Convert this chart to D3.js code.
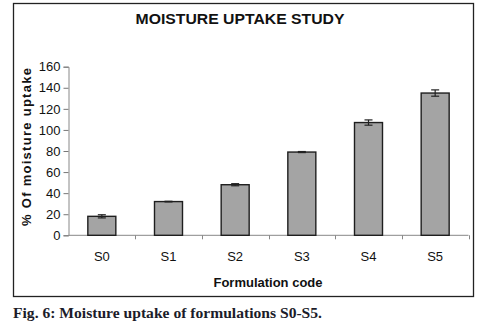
<!DOCTYPE html>
<html><head><meta charset="utf-8">
<script src="https://cdn.jsdelivr.net/npm/d3@7"></script>
<style>body{margin:0;background:#fff}svg{display:block}</style>
</head><body>
<script>
const categories = ["S0","S1","S2","S3","S4","S5"];
const values = [18, 32, 48, 79, 107, 135];
const errors = [1.5, 0.3, 1, 0.5, 2.5, 3];
const yTicks = [0,20,40,60,80,100,120,140,160];
const title = "MOISTURE UPTAKE STUDY";
const xTitle = "Formulation code";
const yTitle = "% Of moisture uptake";
const caption = "Fig. 6: Moisture uptake of formulations S0-S5.";

const W = 480, H = 328;
const svg = d3.select("body").append("svg").attr("width", W).attr("height", H);
svg.append("rect").attr("width", W).attr("height", H).attr("fill", "#fff");

// outer frame
svg.append("rect").attr("x", 13.5).attr("y", 3.5).attr("width", 460).attr("height", 293)
  .attr("fill", "none").attr("stroke", "#222").attr("stroke-width", 1.3);

const x = d3.scaleBand().domain(categories).range([68.5, 468.5]).padding(0);
const y = d3.scaleLinear().domain([0, 160]).range([235.3, 66.7]);

const font = "'Liberation Sans', Arial, sans-serif";

// title
svg.append("text").attr("x", 240).attr("y", 23.5).attr("text-anchor", "middle")
  .attr("font-family", font).attr("font-weight", "bold").attr("font-size", 14.5)
  .attr("textLength", 209).attr("lengthAdjust", "spacingAndGlyphs")
  .attr("fill", "#111").text(title);

// y axis
const yAxis = svg.append("g").attr("transform", "translate(68.5,0)")
  .call(d3.axisLeft(y).tickValues(yTicks).tickSize(5).tickPadding(3));
yAxis.select(".domain").attr("stroke", "#888");
yAxis.selectAll(".tick line").attr("stroke", "#777");
yAxis.selectAll("text").attr("font-family", font).attr("font-size", 13).attr("fill", "#111");

// x axis line
svg.append("line").attr("x1", 68.5).attr("x2", 468.5).attr("y1", y(0)).attr("y2", y(0))
  .attr("stroke", "#888").attr("stroke-width", 1);
// ticks at band edges
svg.selectAll(".xt").data(categories).enter().append("line")
  .attr("x1", d => Math.round(x(d) + x.bandwidth()) + 0.5)
  .attr("x2", d => Math.round(x(d) + x.bandwidth()) + 0.5)
  .attr("y1", y(0)).attr("y2", y(0) + 4).attr("stroke", "#888");
svg.selectAll(".xl").data(categories).enter().append("text")
  .attr("x", d => x(d) + x.bandwidth() / 2).attr("y", 260.5)
  .attr("text-anchor", "middle").attr("font-family", font).attr("font-size", 13)
  .attr("fill", "#111").text(d => d);

// bars
const bw = 28;
svg.selectAll(".bar").data(categories).enter().append("rect")
  .attr("x", d => x(d) + x.bandwidth() / 2 - bw / 2)
  .attr("y", (d, i) => y(values[i]))
  .attr("width", bw)
  .attr("height", (d, i) => y(0) - y(values[i]))
  .attr("fill", "#a4a4a4").attr("stroke", "#1e1e1e").attr("stroke-width", 1.4);

// error bars
const eb = svg.append("g").attr("stroke", "#222").attr("stroke-width", 1.2);
categories.forEach((c, i) => {
  const cx = x(c) + x.bandwidth() / 2;
  const t = y(values[i] + errors[i]), b = y(values[i] - errors[i]);
  eb.append("line").attr("x1", cx).attr("x2", cx).attr("y1", t).attr("y2", b);
  eb.append("line").attr("x1", cx - 4).attr("x2", cx + 4).attr("y1", t).attr("y2", t);
  eb.append("line").attr("x1", cx - 4).attr("x2", cx + 4).attr("y1", b).attr("y2", b);
});

// axis titles
svg.append("text").attr("x", 268).attr("y", 287).attr("text-anchor", "middle")
  .attr("font-family", font).attr("font-weight", "bold").attr("font-size", 12.5)
  .attr("textLength", 109).attr("lengthAdjust", "spacingAndGlyphs")
  .attr("fill", "#111").text(xTitle);
svg.append("text").attr("transform", "translate(31,147) rotate(-90)")
  .attr("text-anchor", "middle")
  .attr("font-family", font).attr("font-weight", "bold").attr("font-size", 13)
  .attr("textLength", 158).attr("lengthAdjust", "spacing")
  .attr("fill", "#111").text(yTitle);

// caption
svg.append("text").attr("x", 13).attr("y", 318)
  .attr("font-family", "'Liberation Serif', 'DejaVu Serif', serif").attr("font-weight", "bold")
  .attr("font-size", 15.5).attr("textLength", 309).attr("lengthAdjust", "spacingAndGlyphs")
  .attr("fill", "#1c1c2a").text(caption);
</script>
</body></html>
